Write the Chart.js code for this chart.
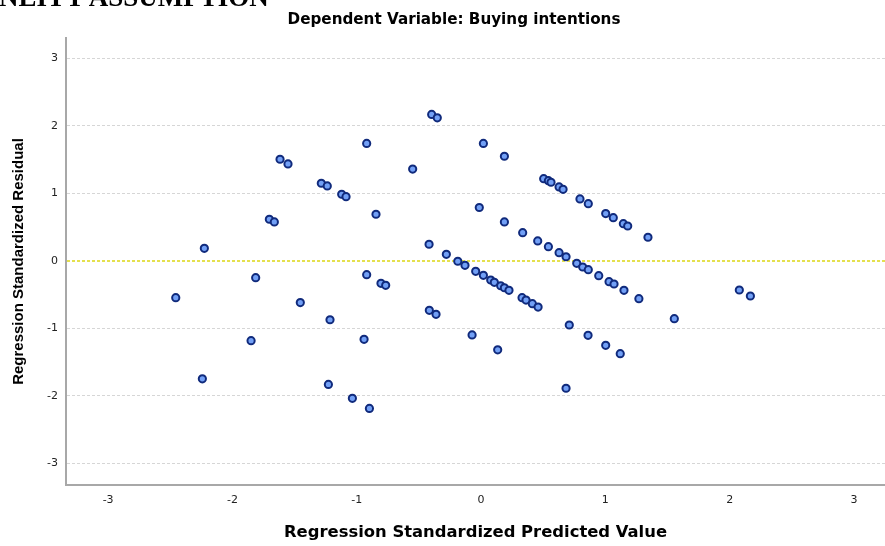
<!DOCTYPE html>
<html>
<head>
<meta charset="utf-8">
<script src="https://cdn.jsdelivr.net/npm/chart.js@4.4.1/dist/chart.umd.min.js"></script>
<style>
  html, body { margin: 0; padding: 0; background: #ffffff; overflow: hidden; }
  #wrap { position: relative; width: 885px; height: 546px; }
  #head { position: absolute; left: -1px; top: -16px; font: bold 27px "Liberation Serif"; line-height: 27px; color: #000; white-space: nowrap; }
  #title { position: absolute; left: 454px; top: 10px; transform: translateX(-50%); font: bold 15.2px "DejaVu Sans"; line-height: 18px; color: #000; white-space: nowrap; }
  canvas { position: absolute; left: 0; top: 0; }
</style>
</head>
<body>
<div id="wrap">
  <canvas id="c" width="885" height="546"></canvas>
  <div id="head">NEITY ASSUMPTION</div>
  <div id="title">Dependent Variable: Buying intentions</div>
</div>
<script>
// ---- data ----
const predictedValues = [
  -2.456, -2.226, -2.242, -1.850, -1.813, -1.703, -1.663, -1.617, -1.553, -1.454,
  -1.285, -1.237, -1.215, -1.228, -1.121, -1.086, -1.035, -0.941, -0.920, -0.920,
  -0.898, -0.845, -0.805, -0.767, -0.550, -0.418, -0.416, -0.362, -0.397, -0.352,
  -0.279, -0.187, -0.129, -0.072, -0.043, -0.014, 0.019, 0.019, 0.078, 0.107,
  0.134, 0.158, 0.188, 0.225, 0.188, 0.188, 0.330, 0.362, 0.413, 0.459,
  0.335, 0.456, 0.542, 0.628, 0.684, 0.504, 0.542, 0.563, 0.628, 0.660,
  0.684, 0.710, 0.770, 0.818, 0.863, 0.796, 0.863, 0.861, 0.947, 1.003,
  1.064, 1.003, 1.030, 1.070, 1.120, 1.145, 1.180, 1.150, 1.270, 1.343,
  1.555, 2.078, 2.167
];
const residualValues = [
  -0.547, 0.185, -1.750, -1.185, -0.250, 0.616, 0.576, 1.506, 1.436, -0.620,
  1.150, 1.110, -0.874, -1.833, 0.987, 0.951, -2.040, -1.165, 1.740, -0.206,
  -2.190, 0.690, -0.334, -0.364, 1.360, 0.245, -0.735, -0.794, 2.170, 2.120,
  0.096, -0.007, -0.067, -1.100, -0.156, 0.790, 1.740, -0.215, -0.285, -0.320,
  -1.320, -0.370, -0.400, -0.438, 1.550, 0.576, -0.547, -0.582, -0.636, -0.686,
  0.417, 0.294, 0.210, 0.120, 0.060, 1.218, 1.188, 1.165, 1.095, 1.060,
  -1.890, -0.952, -0.037, -0.092, -0.132, 0.917, 0.847, -1.105, -0.221, 0.700,
  0.640, -1.254, -0.310, -0.344, -1.378, 0.550, 0.516, -0.438, -0.562, 0.349,
  -0.859, -0.433, -0.522
];
const xTickLabels = [-3, -2, -1, 0, 1, 2, 3];
const yTickLabels = [-3, -2, -1, 0, 1, 2, 3];
const xAxisTitle = "Regression Standardized Predicted Value";
const yAxisTitle = "Regression Standardized Residual";

const points = predictedValues.map((x, i) => ({ x: x, y: residualValues[i] }));

new Chart(document.getElementById('c').getContext('2d'), {
  type: 'scatter',
  data: {
    datasets: [{
      data: points,
      pointRadius: 3.6,
      pointHoverRadius: 3.6,
      pointBorderWidth: 2,
      backgroundColor: '#72a0f6',
      borderColor: '#102a7c'
    }]
  },
  options: {
    responsive: false,
    animation: false,
    events: [],
    layout: { autoPadding: false, padding: { top: 38, left: 0, right: 0, bottom: 0 } },
    plugins: { legend: { display: false }, tooltip: { enabled: false }, title: { display: false } },
    scales: {
      x: {
        type: 'linear',
        min: -3.339,
        max: 3.25,
        afterBuildTicks: s => { s.ticks = xTickLabels.map(v => ({ value: v })); },
        afterFit: s => { s.height = 61; },
        grid: { display: false, drawTicks: false },
        border: { display: true, color: '#a8a8a8', width: 2 },
        ticks: { padding: 9, color: '#222', font: { family: 'DejaVu Sans', size: 11 }, maxRotation: 0 },
        title: { display: true, text: xAxisTitle, color: '#000',
                 font: { family: 'DejaVu Sans', weight: 'bold', size: 16.4 }, padding: { top: 0, bottom: 3 } }
      },
      y: {
        type: 'linear',
        min: -3.325,
        max: 3.304,
        afterBuildTicks: s => { s.ticks = yTickLabels.map(v => ({ value: v })); },
        afterFit: s => { s.width = 66; },
        grid: {
          drawTicks: false,
          color: c => (c.tick && c.tick.value === 0) ? '#e4e04e' : '#d6d6d6',
          lineWidth: c => (c.tick && c.tick.value === 0) ? 2 : 1
        },
        border: { display: true, color: '#a8a8a8', width: 2, dash: [3, 2] },
        ticks: { padding: 8, color: '#222', font: { family: 'DejaVu Sans', size: 11 } },
        title: { display: true, text: yAxisTitle, color: '#000',
                 font: { family: 'Liberation Sans', weight: 'bold', size: 15 }, padding: { top: 10, bottom: 0 } }
      }
    }
  }
});
</script>
</body>
</html>
